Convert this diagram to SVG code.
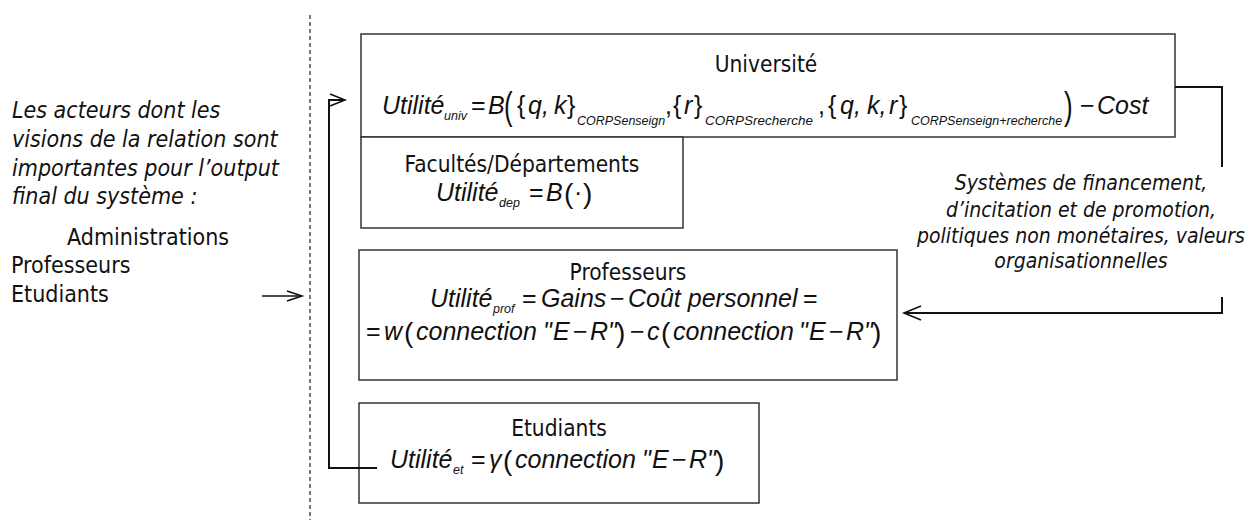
<svg xmlns="http://www.w3.org/2000/svg" width="1255" height="520" viewBox="0 0 1255 520">
<style>
.box{fill:#fff;stroke:#333;stroke-width:1.5}
.cn{fill:none;stroke:#111;stroke-width:2}
.ar{fill:none;stroke:#111;stroke-width:1.6}
.t{font-family:"DejaVu Sans Condensed","DejaVu Sans",sans-serif;font-size:22.5px;fill:#111;text-anchor:middle}
.l{font-family:"DejaVu Sans Condensed","DejaVu Sans",sans-serif;font-size:23px;fill:#111}
.li{font-family:"DejaVu Sans Condensed","DejaVu Sans",sans-serif;font-size:23px;font-style:italic;fill:#111}
.ri{font-family:"DejaVu Sans Condensed","DejaVu Sans",sans-serif;font-size:21px;font-style:italic;fill:#111;text-anchor:middle}
.f{font-family:"Liberation Sans",Arial,sans-serif;font-size:25px;font-style:italic;fill:#111}
.s{font-family:"Liberation Sans",Arial,sans-serif;font-size:12.5px;font-style:italic;fill:#111}
.o{font-family:"Liberation Sans",Arial,sans-serif;font-size:25px;fill:#111}
.P{font-family:"Liberation Sans",Arial,sans-serif;font-size:26px;fill:#111}
.p{font-family:"Liberation Sans",Arial,sans-serif;font-size:28px;fill:#111}
</style>

<line x1="310" y1="15" x2="310" y2="520" stroke="#333" stroke-width="1.3" stroke-dasharray="4 3"/>

<g id="acteurs">
<text class="li" x="12" y="118">Les acteurs dont les</text>
<text class="li" x="12" y="147">visions de la relation sont</text>
<text class="li" x="12" y="176">importantes pour l’output</text>
<text class="li" x="12" y="204">final du système :</text>
<text class="l" x="67" y="245">Administrations</text>
<text class="l" x="11" y="273">Professeurs</text>
<text class="l" x="11" y="302">Etudiants</text>
</g>

<g id="universite">
<rect class="box" x="361" y="34" width="814" height="103"/>
<text class="t" x="766" y="72">Université</text>
<text class="f" x="382" y="114">Utilité</text>
<text class="s" x="444" y="120">univ</text>
<text class="o" x="471" y="114">=</text>
<text class="f" x="488" y="114">B</text>
<text class="P" transform="translate(504,118.7) scale(1,1.5)">(</text>
<text class="o" x="517" y="114">{</text>
<text class="f" x="528" y="114">q,</text>
<text class="f" x="554" y="114">k</text>
<text class="o" x="567" y="114">}</text>
<text class="s" x="577" y="125">CORPSenseign</text>
<text class="o" x="665" y="114">,</text>
<text class="o" x="673" y="114">{</text>
<text class="f" x="684" y="114">r</text>
<text class="o" x="694" y="114">}</text>
<text class="s" x="705" y="125" style="font-size:13.5px">CORPSrecherche</text>
<text class="o" x="818" y="114">,</text>
<text class="o" x="828" y="114">{</text>
<text class="f" x="840" y="114">q,</text>
<text class="f" x="867" y="114">k,</text>
<text class="f" x="889" y="114">r</text>
<text class="o" x="899" y="114">}</text>
<text class="s" x="911" y="125">CORPSenseign+recherche</text>
<text class="P" transform="translate(1064,118.7) scale(1,1.5)">)</text>
<text class="o" x="1080" y="114">−</text>
<text class="f" x="1097" y="114">Cost</text>
</g>

<g id="facultes">
<rect class="box" x="361" y="137" width="322" height="91"/>
<text class="t" x="522" y="172">Facultés/Départements</text>
<text class="f" x="436" y="201">Utilité</text>
<text class="s" x="499" y="207">dep</text>
<text class="o" x="529" y="201">=</text>
<text class="f" x="546" y="201">B</text>
<text class="p" x="564" y="203">(</text>
<text class="o" x="574" y="201">·</text>
<text class="p" x="583" y="203">)</text>
</g>

<g id="professeurs">
<rect class="box" x="359" y="250" width="538" height="130"/>
<text class="t" x="628" y="280">Professeurs</text>
<text class="f" x="430" y="307">Utilité</text>
<text class="s" x="493" y="313">prof</text>
<text class="o" x="522" y="307">=</text>
<text class="f" x="541" y="307">Gains</text>
<text class="o" x="610" y="307">−</text>
<text class="f" x="628" y="307">Coût personnel</text>
<text class="o" x="803" y="307">=</text>
<text class="o" x="366" y="340">=</text>
<text class="f" x="384" y="340">w</text>
<text class="p" x="404" y="342">(</text>
<text class="f" x="416" y="340">connection</text>
<text class="f" x="543" y="340">"</text>
<text class="f" x="553" y="340">E</text>
<text class="o" x="573" y="340">−</text>
<text class="f" x="590" y="340">R</text>
<text class="f" x="608" y="340">"</text>
<text class="p" x="616" y="342">)</text>
<text class="o" x="630" y="340">−</text>
<text class="f" x="647" y="340">c</text>
<text class="p" x="661" y="342">(</text>
<text class="f" x="673" y="340">connection</text>
<text class="f" x="799" y="340">"</text>
<text class="f" x="809" y="340">E</text>
<text class="o" x="829" y="340">−</text>
<text class="f" x="846" y="340">R</text>
<text class="f" x="864" y="340">"</text>
<text class="p" x="872" y="342">)</text>
</g>

<g id="etudiants">
<rect class="box" x="359" y="403" width="400" height="100"/>
<text class="t" x="559" y="436">Etudiants</text>
<text class="f" x="390" y="468">Utilité</text>
<text class="s" x="453" y="474">et</text>
<text class="o" x="471" y="468">=</text>
<text class="f" x="489" y="468">γ</text>
<text class="p" x="503" y="470">(</text>
<text class="f" x="515" y="468">connection</text>
<text class="f" x="642" y="468">"</text>
<text class="f" x="652" y="468">E</text>
<text class="o" x="672" y="468">−</text>
<text class="f" x="689" y="468">R</text>
<text class="f" x="707" y="468">"</text>
<text class="p" x="715" y="470">)</text>
</g>

<g id="systemes">
<text class="ri" x="1081" y="190">Systèmes de financement,</text>
<text class="ri" x="1081" y="217">d’incitation et de promotion,</text>
<text class="ri" x="1081" y="243">politiques non monétaires, valeurs</text>
<text class="ri" x="1081" y="268">organisationnelles</text>
</g>

<g id="connectors">
<path class="cn" d="M1175,87 H1222 V167"/>
<path class="cn" d="M1222,297 V313 H905"/>
<path class="ar" d="M921,306 L904,313 L921,320"/>
<path class="cn" d="M377,468 H329 V100 H344"/>
<path class="ar" d="M330,94 L345,100 L330,106"/>
<path class="ar" d="M262,296 H301"/>
<path class="ar" d="M287,291 L302,296 L287,301"/>
</g>
</svg>
